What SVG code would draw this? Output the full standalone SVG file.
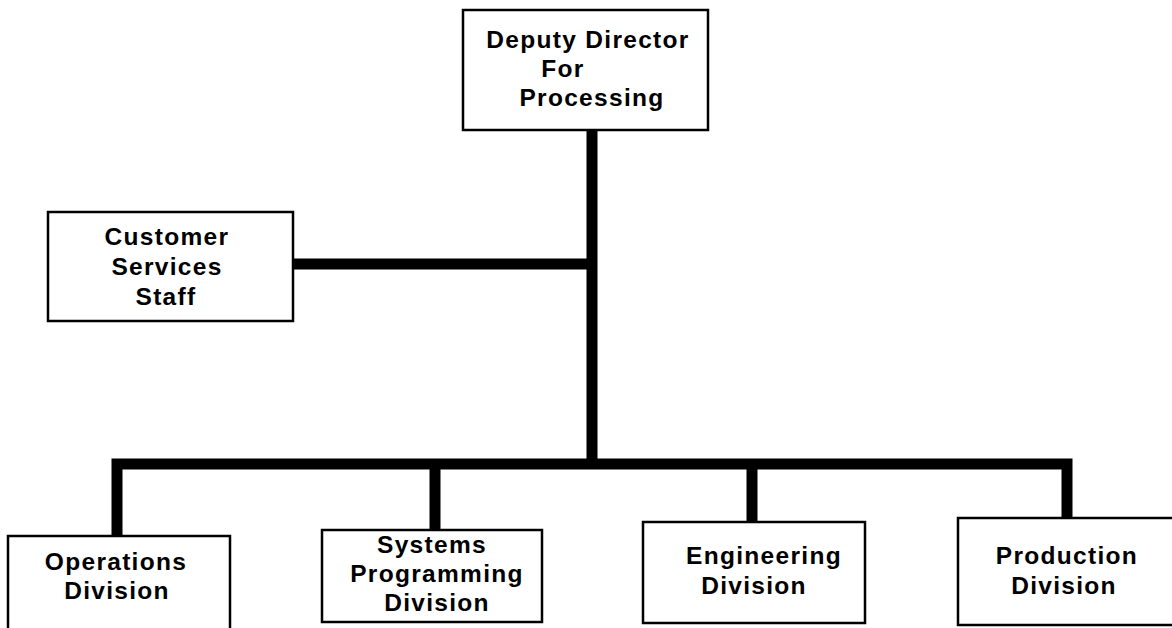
<svg xmlns="http://www.w3.org/2000/svg" width="1172" height="628" viewBox="0 0 1172 628">
<style>
.box{fill:#fff;stroke:#000;stroke-width:2.5}
.t{font-family:"Liberation Sans",Arial,sans-serif;font-weight:bold;font-size:24.5px;letter-spacing:1.3px;fill:#000;text-anchor:middle}
.c{fill:none;stroke:#000;stroke-width:11;stroke-linecap:butt}
</style>
<rect width="1172" height="628" fill="#fff"/>
<g id="connectors">
<line class="c" x1="592" y1="130" x2="592" y2="469"/>
<line class="c" x1="293" y1="264" x2="592" y2="264"/>
<polyline class="c" points="117,536 117,464 1067,464 1067,518"/>
<line class="c" x1="435" y1="464" x2="435" y2="530"/>
<line class="c" x1="752" y1="464" x2="752" y2="522"/>
</g>
<g id="deputy">
<rect class="box" x="463" y="10" width="245" height="120"/>
<text class="t" x="588" y="48">Deputy Director</text>
<text class="t" x="563" y="77">For</text>
<text class="t" x="592" y="106">Processing</text>
</g>
<g id="customer">
<rect class="box" x="48" y="212" width="245" height="109"/>
<text class="t" x="167" y="245">Customer</text>
<text class="t" x="167" y="275">Services</text>
<text class="t" x="166" y="305">Staff</text>
</g>
<g id="operations">
<rect class="box" x="8" y="536" width="222" height="100"/>
<text class="t" x="116" y="570">Operations</text>
<text class="t" x="117" y="599">Division</text>
</g>
<g id="systems">
<rect class="box" x="322" y="530" width="220" height="92"/>
<text class="t" x="432" y="553">Systems</text>
<text class="t" x="437" y="582">Programming</text>
<text class="t" x="437" y="611">Division</text>
</g>
<g id="engineering">
<rect class="box" x="643" y="522" width="222" height="101"/>
<text class="t" x="764" y="564">Engineering</text>
<text class="t" x="754" y="594">Division</text>
</g>
<g id="production">
<rect class="box" x="958" y="518" width="220" height="107"/>
<text class="t" x="1067" y="564">Production</text>
<text class="t" x="1064" y="594">Division</text>
</g>
</svg>
